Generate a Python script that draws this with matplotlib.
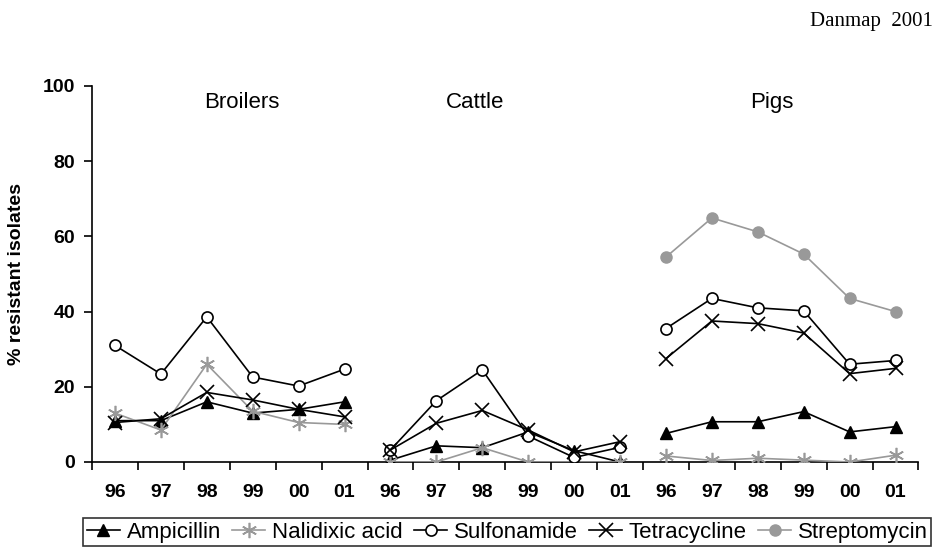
import numpy as np
import matplotlib
matplotlib.use('Agg')
import matplotlib.pyplot as plt

# groups and years
groups = ['Broilers', 'Cattle', 'Pigs']
years = ['96', '97', '98', '99', '00', '01']

# % resistant isolates per group, years 96-01
ampicillin = {
    'Broilers': [11, 11, 16, 13, 14, 16],
    'Cattle': [0.5, 4.3, 3.8, 8, 3, 0],
    'Pigs': [7.6, 10.7, 10.7, 13.4, 8, 9.4],
}
nalidixic = {
    'Broilers': [13, 8.5, 26, 13.5, 10.5, 10],
    'Cattle': [0, 0, 3.8, 0, 0, 0],
    'Pigs': [1.6, 0.4, 1, 0.5, 0, 1.8],
}
sulfonamide = {
    'Broilers': [31, 23.4, 38.6, 22.6, 20.2, 24.7],
    'Cattle': [3.2, 16.3, 24.5, 6.9, 1.2, 3.9],
    'Pigs': [35.5, 43.5, 41, 40.2, 26, 27],
}
tetracycline = {
    'Broilers': [10.5, 11.5, 18.5, 16.5, 14, 12],
    'Cattle': [3.2, 10.3, 13.7, 8.5, 2.7, 5.4],
    'Pigs': [27.5, 37.5, 36.8, 34.3, 23.5, 24.9],
}
streptomycin = {
    'Pigs': [54.5, 64.9, 61.2, 55.3, 43.5, 40],
}

series = [
    ('Ampicillin', ampicillin, dict(color='black', marker='^', ms=8, mfc='black', mec='black')),
    ('Nalidixic acid', nalidixic, dict(color='#999999', marker=(6, 2, 0), ms=11, mfc='none', mec='#999999', mew=1.2)),
    ('Sulfonamide', sulfonamide, dict(color='black', marker='o', ms=8, mfc='white', mec='black', mew=1.2)),
    ('Tetracycline', tetracycline, dict(color='black', marker='x', ms=10, mec='black', mew=1.2)),
    ('Streptomycin', streptomycin, dict(color='#999999', marker='o', ms=8, mfc='#999999', mec='#999999')),
]

# title positions (in category index units)
title_x = {'Broilers': 2.76, 'Cattle': 7.84, 'Pigs': 14.3}

plt.rcParams['font.family'] = ['Liberation Sans', 'DejaVu Sans']

fig = plt.figure(figsize=(9.36, 5.47), dpi=100)
ax = fig.add_axes([0.0983, 0.1554, 0.883, 0.6874])

n = len(years)
for label, data, style in series:
    first = True
    for gi, g in enumerate(groups):
        if g not in data:
            continue
        x = np.arange(n) + gi * n
        ax.plot(x, data[g], lw=1.2, label=label if first else None, zorder=3, **style)
        first = False

ax.set_xlim(-0.5, 3 * n - 0.5)
ax.set_ylim(0, 100)
ax.set_yticks(range(0, 101, 20))
ax.set_xticks(np.arange(3 * n + 1) - 0.5)
ax.set_xticklabels([])
ax.set_xticks(np.arange(3 * n), labels=years * 3, minor=True)
ax.tick_params(axis='x', which='major', direction='out', length=6, width=1.2)
ax.tick_params(axis='x', which='minor', length=0, pad=16, labelsize=14)
ax.tick_params(axis='y', direction='out', length=6, width=1.2, labelsize=14, pad=6)
for t in ax.get_xticklabels(minor=True) + ax.get_yticklabels():
    t.set_fontweight('bold')
for s in ['top', 'right']:
    ax.spines[s].set_visible(False)
for s in ['left', 'bottom']:
    ax.spines[s].set_linewidth(1.2)

ax.set_ylabel('% resistant isolates', fontsize=14, fontweight='bold', va='center')
ax.yaxis.set_label_coords(-0.091, 0.5)

for g in groups:
    ax.text(title_x[g], 95.5, g, ha='center', va='center', fontsize=16)

fig.text(0.997, 0.96, 'Danmap  2001', ha='right', va='center', fontsize=15,
         family='Liberation Serif')

leg = fig.legend(loc='lower center', bbox_to_anchor=(0.542, 0.002), ncol=5,
                 fontsize=16, frameon=True, fancybox=False, edgecolor='black',
                 handlelength=1.5, handletextpad=0.3, columnspacing=0.5,
                 borderpad=0.15, borderaxespad=0)
leg.get_frame().set_linewidth(1.2)

fig.savefig('out.png', dpi=100)
